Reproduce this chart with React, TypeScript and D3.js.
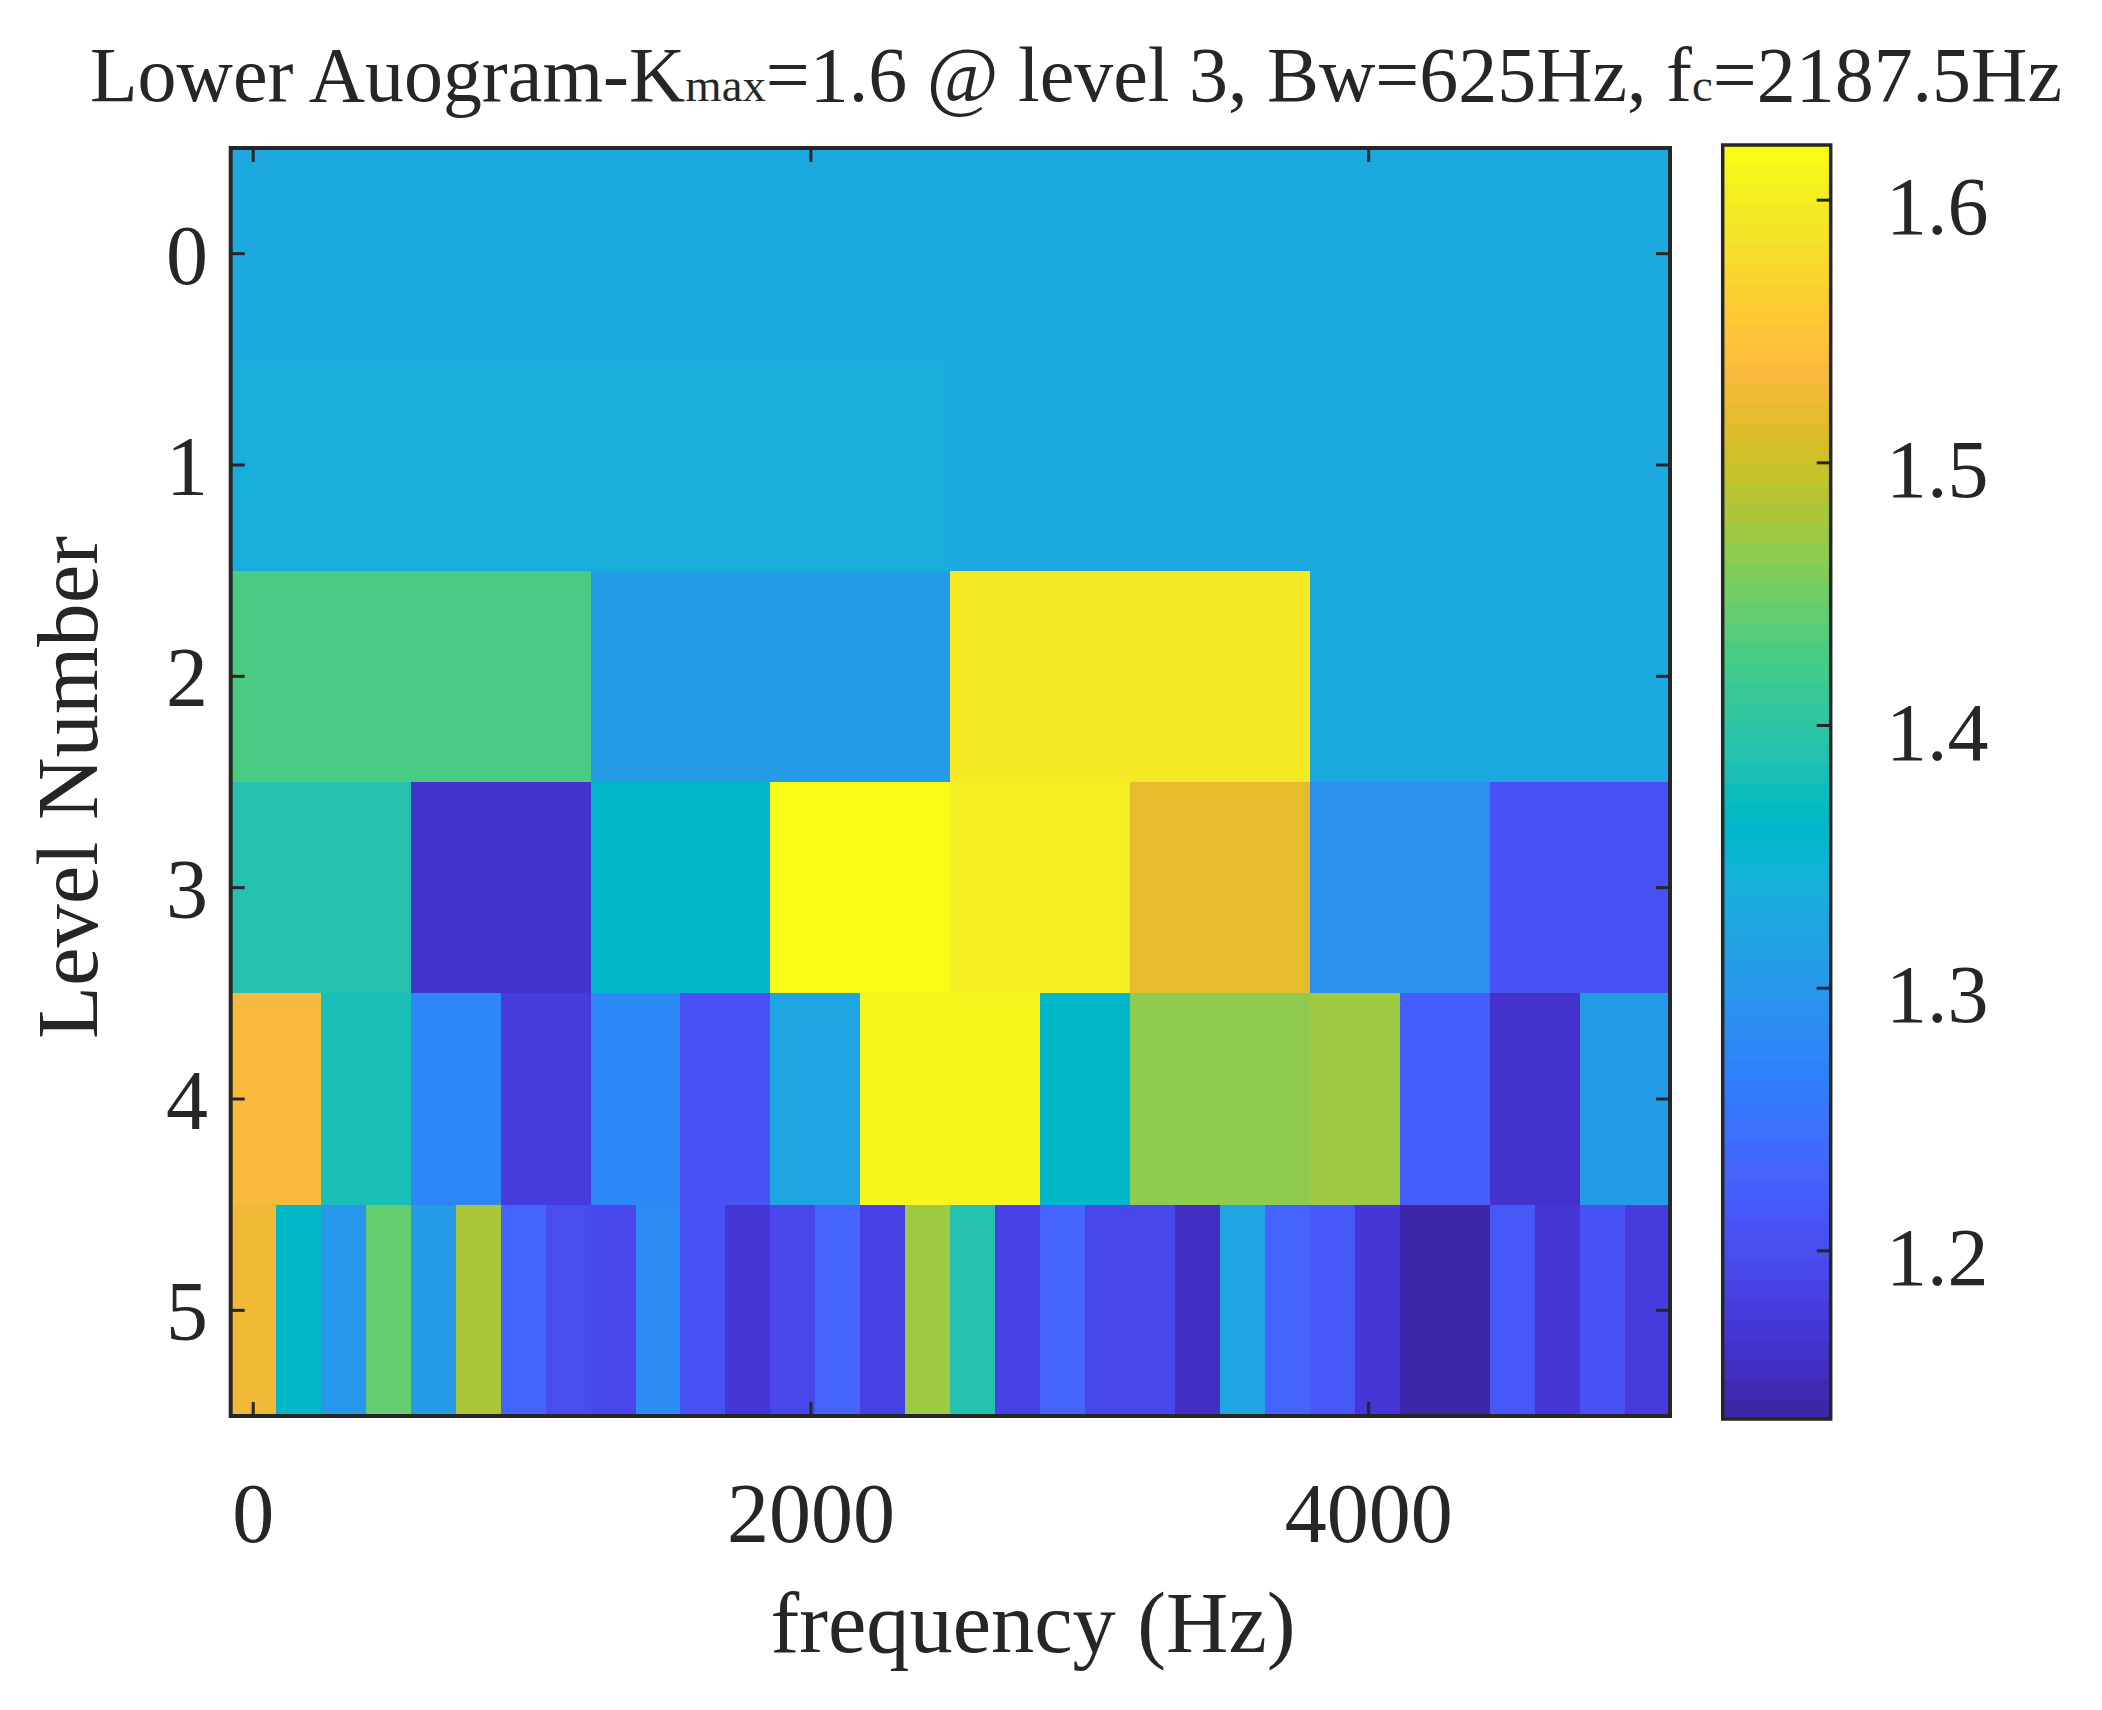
import React from 'react';
import * as d3 from 'd3';

// kurtogram values per level (level k has 2^k bands across 0..fs/2)
const level0 = [1.329];
const level1 = [1.337, 1.329];
const level2 = [1.428, 1.307, 1.595, 1.329];
const level3 = [1.390, 1.1625, 1.360, 1.621, 1.600, 1.518, 1.291, 1.208];
const level4 = [
  1.534, 1.386, 1.276, 1.178, 1.276, 1.21, 1.322, 1.611,
  1.611, 1.360, 1.462, 1.462, 1.470, 1.223, 1.163, 1.303,
];
const level5 = [
  1.523, 1.360, 1.299, 1.443, 1.307, 1.481, 1.231, 1.197,
  1.193, 1.280, 1.208, 1.170, 1.193, 1.231, 1.182, 1.470,
  1.390, 1.185, 1.231, 1.193, 1.192, 1.155, 1.322, 1.231,
  1.214, 1.170, 1.138, 1.136, 1.213, 1.170, 1.207, 1.180,
];
const levels = [level0, level1, level2, level3, level4, level5];

const levelTicks = [0, 1, 2, 3, 4, 5];
const freqTicks = [0, 2000, 4000];
const cbarTicks = [1.2, 1.3, 1.4, 1.5, 1.6];
const nyquist = 5000;
const nCols = 32;

// MATLAB parula(64)
const PARULA = [
  [0.2422, 0.1504, 0.6603], [0.2504, 0.1650, 0.7076], [0.2578, 0.1818, 0.7511], [0.2647, 0.1978, 0.7952],
  [0.2706, 0.2147, 0.8364], [0.2751, 0.2342, 0.8710], [0.2783, 0.2559, 0.8991], [0.2803, 0.2782, 0.9221],
  [0.2813, 0.3006, 0.9414], [0.2810, 0.3228, 0.9579], [0.2795, 0.3447, 0.9717], [0.2760, 0.3667, 0.9829],
  [0.2699, 0.3892, 0.9906], [0.2602, 0.4123, 0.9952], [0.2440, 0.4358, 0.9988], [0.2206, 0.4603, 0.9973],
  [0.1963, 0.4847, 0.9892], [0.1834, 0.5074, 0.9798], [0.1786, 0.5289, 0.9682], [0.1764, 0.5499, 0.9520],
  [0.1687, 0.5703, 0.9359], [0.1540, 0.5902, 0.9218], [0.1460, 0.6091, 0.9079], [0.1380, 0.6276, 0.8973],
  [0.1248, 0.6459, 0.8883], [0.1113, 0.6635, 0.8763], [0.0952, 0.6798, 0.8598], [0.0689, 0.6948, 0.8394],
  [0.0297, 0.7082, 0.8163], [0.0036, 0.7203, 0.7917], [0.0067, 0.7312, 0.7660], [0.0433, 0.7411, 0.7394],
  [0.0964, 0.7500, 0.7120], [0.1408, 0.7584, 0.6842], [0.1717, 0.7670, 0.6554], [0.1938, 0.7758, 0.6251],
  [0.2161, 0.7843, 0.5923], [0.2470, 0.7918, 0.5567], [0.2906, 0.7973, 0.5188], [0.3406, 0.8008, 0.4789],
  [0.3909, 0.8029, 0.4354], [0.4456, 0.8024, 0.3909], [0.5044, 0.7993, 0.3480], [0.5616, 0.7942, 0.3045],
  [0.6174, 0.7876, 0.2612], [0.6720, 0.7793, 0.2227], [0.7242, 0.7698, 0.1910], [0.7738, 0.7598, 0.1646],
  [0.8203, 0.7498, 0.1535], [0.8634, 0.7406, 0.1596], [0.9035, 0.7330, 0.1774], [0.9393, 0.7288, 0.2100],
  [0.9728, 0.7298, 0.2394], [0.9956, 0.7434, 0.2371], [0.9970, 0.7659, 0.2199], [0.9952, 0.7893, 0.2028],
  [0.9892, 0.8136, 0.1885], [0.9786, 0.8386, 0.1766], [0.9676, 0.8639, 0.1643], [0.9610, 0.8890, 0.1537],
  [0.9597, 0.9135, 0.1423], [0.9628, 0.9373, 0.1265], [0.9691, 0.9606, 0.1064], [0.9769, 0.9839, 0.0805],
].map(([r, g, b]) => d3.rgb(r * 255, g * 255, b * 255).formatHex());

const INK = '#262626';
const FONT = '"Liberation Serif", "Times New Roman", serif';

const App = () => {
  const width = 2102;
  const height = 1710;
  const plot = { left: 230.7, right: 1670, top: 148, bottom: 1416 };
  const cbar = { left: 1722.7, right: 1830.7, top: 145, bottom: 1419 };
  const tickLen = 14;

  const step = nyquist / (nCols - 1);
  const x = d3.scaleLinear().domain([-step / 2, nyquist + step / 2]).range([plot.left, plot.right]);
  const y = d3.scaleLinear().domain([-0.5, levels.length - 0.5]).range([plot.top, plot.bottom]);

  const [cmin, cmax] = d3.extent(levels.flat()) as [number, number];
  const color = d3.scaleQuantize<string>().domain([cmin, cmax]).range(PARULA);
  const cy = d3.scaleLinear().domain([cmin, cmax]).range([cbar.bottom, cbar.top]);
  const cstep = (cmax - cmin) / PARULA.length;

  const cells = levels.flatMap((vals, lvl) => {
    const span = nCols / vals.length;
    return vals.map((v, b) => {
      const x0 = x((b * span - 0.5) * step);
      const x1 = x(((b + 1) * span - 0.5) * step);
      return { lvl, b, v, x0, x1, y0: y(lvl - 0.5), y1: y(lvl + 0.5) };
    });
  });

  return (
    <div style={{ position: 'absolute', left: 0, top: 0 }}>
      <svg width={width} height={height} viewBox={`0 0 ${width} ${height}`} style={{ display: 'block', background: '#fff' }}>
        {/* heatmap */}
        <g shapeRendering="crispEdges">
          {cells.map(c => (
            <rect
              key={`c-${c.lvl}-${c.b}`}
              x={c.x0}
              y={c.y0}
              width={c.x1 - c.x0 + 0.5}
              height={c.y1 - c.y0 + 0.5}
              fill={color(c.v)}
            />
          ))}
        </g>

        {/* ticks */}
        <g stroke={INK} strokeWidth={3}>
          {levelTicks.map(t => (
            <g key={`yt-${t}`}>
              <line x1={plot.left} x2={plot.left + tickLen} y1={y(t)} y2={y(t)} />
              <line x1={plot.right} x2={plot.right - tickLen} y1={y(t)} y2={y(t)} />
            </g>
          ))}
          {freqTicks.map(t => (
            <g key={`xt-${t}`}>
              <line x1={x(t)} x2={x(t)} y1={plot.bottom} y2={plot.bottom - tickLen} />
              <line x1={x(t)} x2={x(t)} y1={plot.top} y2={plot.top + tickLen} />
            </g>
          ))}
        </g>
        <rect
          x={plot.left}
          y={plot.top}
          width={plot.right - plot.left}
          height={plot.bottom - plot.top}
          fill="none"
          stroke={INK}
          strokeWidth={4}
        />

        {/* tick labels */}
        <g fill={INK} fontFamily={FONT} fontSize={84}>
          {levelTicks.map(t => (
            <text key={`yl-${t}`} x={208} y={y(t) + 30} textAnchor="end">{t}</text>
          ))}
          {freqTicks.map(t => (
            <text key={`xl-${t}`} x={x(t)} y={1542} textAnchor="middle">{t}</text>
          ))}
        </g>

        {/* axis labels */}
        <text x={1033} y={1652} textAnchor="middle" fill={INK} fontFamily={FONT} fontSize={86}
          textLength={525} lengthAdjust="spacingAndGlyphs">
          frequency (Hz)
        </text>
        <text transform="translate(97, 787.5) rotate(-90)" textAnchor="middle" fill={INK} fontFamily={FONT}
          fontSize={86} textLength={503} lengthAdjust="spacingAndGlyphs">
          Level Number
        </text>

        {/* title */}
        <text x={90} y={101} fill={INK} fontFamily={FONT} fontSize={78} textLength={1972} lengthAdjust="spacingAndGlyphs">
          Lower Auogram-K<tspan fontSize="0.6em">max</tspan>=1.6 @ level 3, Bw=625Hz, f<tspan fontSize="0.6em">c</tspan>=2187.5Hz
        </text>

        {/* colorbar */}
        <g shapeRendering="crispEdges">
          {PARULA.map((c, i) => {
            const yTop = cy(cmin + (i + 1) * cstep);
            const yBot = cy(cmin + i * cstep);
            return (
              <rect key={`cb-${i}`} x={cbar.left} y={yTop} width={cbar.right - cbar.left} height={yBot - yTop + 0.5} fill={c} />
            );
          })}
        </g>
        <g stroke={INK} strokeWidth={3}>
          {cbarTicks.map(t => (
            <line key={`ct-${t}`} x1={cbar.right} x2={cbar.right - tickLen} y1={cy(t)} y2={cy(t)} />
          ))}
        </g>
        <rect
          x={cbar.left}
          y={cbar.top}
          width={cbar.right - cbar.left}
          height={cbar.bottom - cbar.top}
          fill="none"
          stroke={INK}
          strokeWidth={3.5}
        />
        <g fill={INK} fontFamily={FONT} fontSize={82}>
          {cbarTicks.map(t => (
            <text key={`cl-${t}`} x={1886} y={cy(t) + 34}>{t.toFixed(1)}</text>
          ))}
        </g>
      </svg>
    </div>
  );
};

export default App;
